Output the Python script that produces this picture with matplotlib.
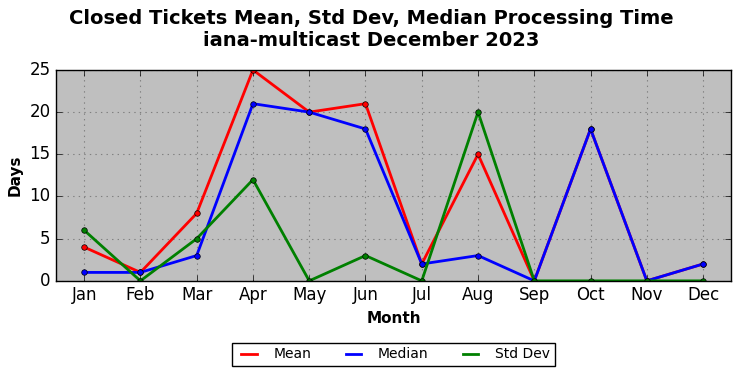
import numpy as np
import matplotlib
matplotlib.use("Agg")
import matplotlib.pyplot as plt
from matplotlib.lines import Line2D

months = ["Jan", "Feb", "Mar", "Apr", "May", "Jun", "Jul", "Aug", "Sep", "Oct", "Nov", "Dec"]
mean_days = [4, 1, 8, 25, 20, 21, 2, 15, 0, 18, 0, 2]
median_days = [1, 1, 3, 21, 20, 18, 2, 3, 0, 18, 0, 2]
std_days = [6, 0, 5, 12, 0, 3, 0, 20, 0, 0, 0, 0]

plt.style.use("classic")
fig = plt.figure(figsize=(7.42, 3.78), dpi=100, facecolor="white")
ax = fig.add_axes([0.0755, 0.257, 0.91, 0.558])
ax.set_facecolor("#bfbfbf")
ax.set_axisbelow(True)

x = np.arange(len(months))
series = [("Mean", mean_days, "red"), ("Median", median_days, "blue"), ("Std Dev", std_days, "green")]
handles = []
for name, vals, col in series:
    ax.plot(x, vals, color=col, lw=2, marker="o", ms=4, mec="black", mew=0.5)
    handles.append(Line2D([], [], color=col, lw=2, label=name))

ax.set_xlim(-0.5, 11.5)
ax.set_ylim(0, 25)
ax.set_xticks(x)
ax.set_xticklabels(months, fontsize=12)
ax.set_yticks([0, 5, 10, 15, 20, 25])
ax.tick_params(axis="y", labelsize=12)
ax.grid(True, color="gray", linestyle=":", linewidth=0.8)
ax.set_xlabel("Month", fontsize=11, fontweight="bold")
ax.set_ylabel("Days", fontsize=11, fontweight="bold")
fig.suptitle("Closed Tickets Mean, Std Dev, Median Processing Time\niana-multicast December 2023",
             fontsize=14, fontweight="bold", y=0.975)

leg = ax.legend(handles=handles, loc="upper center", bbox_to_anchor=(0.5, -0.26), ncol=3,
                fontsize=10, fancybox=False, frameon=True, handlelength=1.7,
                handletextpad=0.9, columnspacing=2.2, borderpad=0.35)
leg.get_frame().set_edgecolor("black")

fig.savefig("out.png", dpi=100, facecolor="white")
